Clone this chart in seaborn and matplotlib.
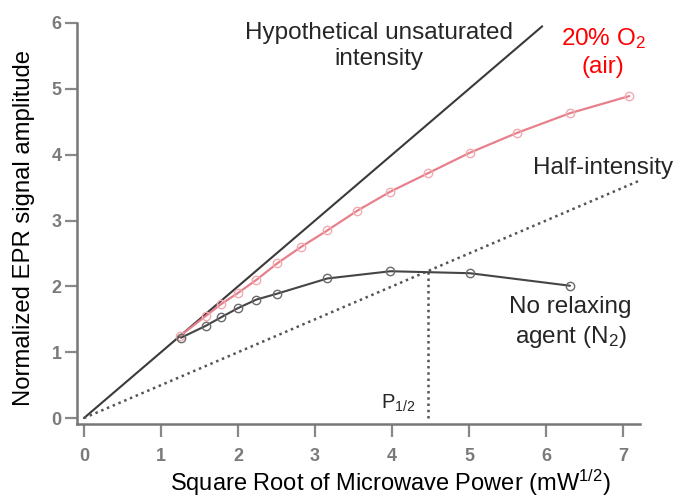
import matplotlib
matplotlib.use("Agg")
import matplotlib.pyplot as plt
import seaborn as sns
import numpy as np

# ---- data ----
hyp_x = [0.0, 5.95]
hyp_y = [0.0, 5.95]

half_x = [0.0, 7.22]
half_y = [0.0, 3.61]

o2_x = [1.25, 1.58, 1.78, 2.0, 2.24, 2.51, 2.82, 3.16, 3.55, 3.98, 4.47, 5.01, 5.62, 6.31, 7.08]
o2_y = [1.25, 1.55, 1.73, 1.9, 2.1, 2.35, 2.6, 2.85, 3.15, 3.44, 3.72, 4.03, 4.33, 4.63, 4.89]

n2_x = [1.26, 1.58, 1.78, 2.0, 2.24, 2.51, 3.16, 3.98, 5.01, 6.31]
n2_y = [1.22, 1.4, 1.53, 1.67, 1.8, 1.89, 2.12, 2.23, 2.2, 2.01]

p_half_x = [4.47, 4.47]
p_half_y = [0.0, 2.23]

x_ticks = [0, 1, 2, 3, 4, 5, 6, 7]
y_ticks = [0, 1, 2, 3, 4, 5, 6]

# ---- style ----
sns.set_style("ticks")
plt.rcParams['font.family'] = ['Liberation Sans', 'DejaVu Sans']
plt.rcParams['mathtext.fontset'] = 'custom'
plt.rcParams['mathtext.rm'] = 'Liberation Sans'
plt.rcParams['mathtext.it'] = 'Liberation Sans:italic'

fig = plt.figure(figsize=(6.78, 5.0), dpi=100)
ax = fig.add_axes([0.1136, 0.152, 0.8304, 0.802])

sns.lineplot(x=hyp_x, y=hyp_y, ax=ax, color='#3a3a3a', lw=1.5)
sns.lineplot(x=half_x, y=half_y, ax=ax, color='#555555', lw=1.8, linestyle=(0, (1, 1.5)))
sns.lineplot(x=p_half_x, y=p_half_y, ax=ax, color='#555555', lw=1.8, linestyle=(0, (1, 1.5)), orient='y', sort=False)
sns.lineplot(x=o2_x, y=o2_y, ax=ax, color='#e8808b', lw=1.6, marker='o', markersize=6,
             markerfacecolor='none', markeredgecolor='#f2aab1', markeredgewidth=1.0)
sns.lineplot(x=n2_x, y=n2_y, ax=ax, color='#454545', lw=1.5, marker='o', markersize=6,
             markerfacecolor='none', markeredgecolor='#6a6a6a', markeredgewidth=1.0)

ax.set_xlim(-0.09, 7.22)
ax.set_ylim(-0.09, 6.0)
ax.set_xticks(x_ticks)
ax.set_yticks(y_ticks)
ax.tick_params(axis='both', direction='out', length=9, width=1.6, colors='#888888',
               labelsize=13, labelcolor='#7a7a7a')
ax.tick_params(axis='x', pad=8)
ax.tick_params(axis='y', pad=2)
for lab in ax.get_xticklabels() + ax.get_yticklabels():
    lab.set_fontweight('bold')
for s in ['top', 'right']:
    ax.spines[s].set_visible(False)
for s in ['left', 'bottom']:
    ax.spines[s].set_color('#777777')
    ax.spines[s].set_linewidth(1.8)

ax.set_xlabel('Square Root of Microwave Power (mW$^{\\mathregular{1/2}}$)', fontsize=17, color='black')
ax.xaxis.set_label_coords(0.556, -0.11)
ax.set_ylabel('Normalized EPR signal amplitude', fontsize=17.2, color='black')
ax.yaxis.set_label_coords(-0.075, 0.49)

ax.text(3.83, 5.65, 'Hypothetical unsaturated\nintensity', ha='center', va='center', fontsize=17.5,
        linespacing=1.25)
ax.text(6.74, 5.56, '20% O$_\\mathregular{2}$\n(air)', ha='center', va='center', fontsize=17.5,
        color='#ff0000', linespacing=1.3)
ax.text(5.83, 3.8, 'Half-intensity', ha='left', va='center', fontsize=17.5)
ax.text(6.32, 1.44, 'No relaxing\nagent (N$_\\mathregular{2}$)', ha='center', va='center', fontsize=17.5,
        linespacing=1.3)
ax.text(4.08, 0.23, 'P$_\\mathregular{1/2}$', ha='center', va='center', fontsize=14.5,
        bbox=dict(facecolor='white', edgecolor='none', pad=4))

fig.savefig('out.png', dpi=100)
